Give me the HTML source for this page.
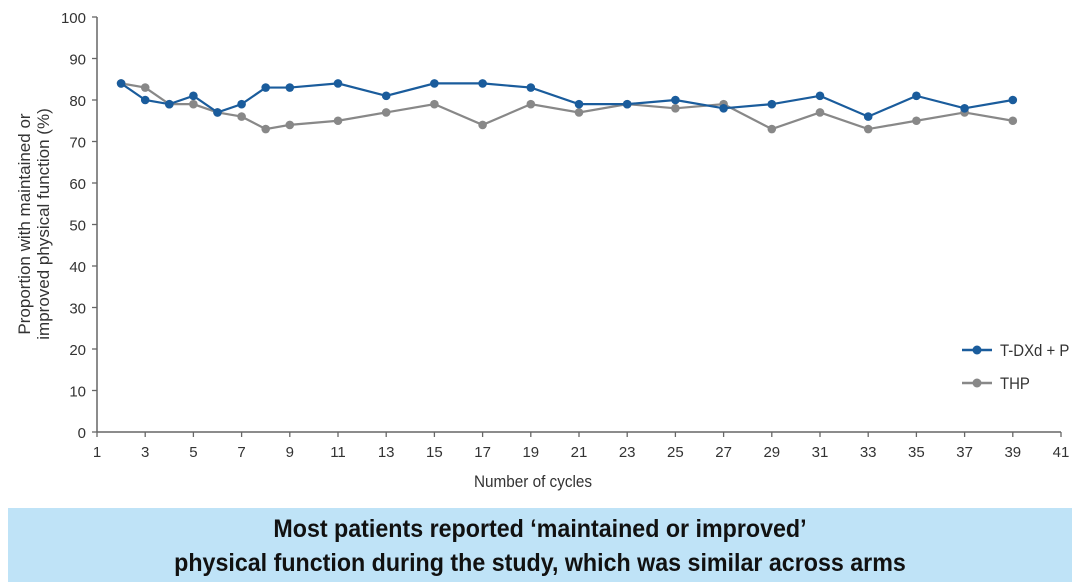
<!DOCTYPE html>
<html><head><meta charset="utf-8"><style>
html,body{margin:0;padding:0;background:#fff;width:1080px;height:586px;overflow:hidden}
svg{display:block}
text{font-family:"Liberation Sans",sans-serif}
</style></head><body>
<svg id="s" width="1080" height="586" viewBox="0 0 1080 586" xmlns="http://www.w3.org/2000/svg">
<rect x="8" y="508" width="1064" height="74" fill="#bfe3f7"/>
<text x="540" y="537" text-anchor="middle" font-size="25" font-weight="bold" fill="#111" transform="translate(540 0) scale(0.93 1) translate(-540 0)">Most patients reported ‘maintained or improved’</text>
<text x="540" y="571" text-anchor="middle" font-size="25" font-weight="bold" fill="#111" transform="translate(540 0) scale(0.93 1) translate(-540 0)">physical function during the study, which was similar across arms</text>
<text x="533" y="487" text-anchor="middle" font-size="17" fill="#333" transform="translate(533 0) scale(0.9 1) translate(-533 0)">Number of cycles</text>
<text transform="translate(30 224) rotate(-90)" text-anchor="middle" font-size="17" fill="#333">Proportion with maintained or</text>
<text transform="translate(49 224) rotate(-90)" text-anchor="middle" font-size="17" fill="#333">improved physical function (%)</text>
<g id="ax"></g>
<line x1="962" y1="350" x2="992" y2="350" stroke="#1a5c9c" stroke-width="2.5"/><circle cx="977" cy="350" r="4.5" fill="#1a5c9c"/>
<text x="1000" y="356" font-size="17" fill="#333" transform="translate(1000 0) scale(0.88 1) translate(-1000 0)">T-DXd + P</text>
<line x1="962" y1="383" x2="992" y2="383" stroke="#888" stroke-width="2.5"/><circle cx="977" cy="383" r="4.5" fill="#888"/>
<text x="1000" y="389" font-size="17" fill="#333" transform="translate(1000 0) scale(0.88 1) translate(-1000 0)">THP</text>
</svg>
<script>
var ns="http://www.w3.org/2000/svg",g=document.getElementById("ax");
function X(c){return 97+(c-1)*24.1}function Y(v){return 432-v*4.15}
function el(t,a,txt){var e=document.createElementNS(ns,t);for(var k in a)e.setAttribute(k,a[k]);if(txt!=null)e.textContent=txt;g.appendChild(e);return e}
el("line",{x1:97,y1:17,x2:97,y2:432,stroke:"#666","stroke-width":1.5});
el("line",{x1:97,y1:432,x2:1061,y2:432,stroke:"#666","stroke-width":1.5});
for(var v=0;v<=100;v+=10){el("line",{x1:92,y1:Y(v),x2:97,y2:Y(v),stroke:"#666","stroke-width":1.3});
el("text",{x:86,y:Y(v)+6,"text-anchor":"end","font-size":15,fill:"#333"},v);}
for(var c=1;c<=41;c+=2){el("line",{x1:X(c),y1:432,x2:X(c),y2:437,stroke:"#666","stroke-width":1.3});
el("text",{x:X(c),y:457,"text-anchor":"middle","font-size":15,fill:"#333"},c);}
var cs=[2,3,4,5,6,7,8,9,11,13,15,17,19,21,23,25,27,29,31,33,35,37,39];
var gray=[84,83,79,79,77,76,73,74,75,77,79,74,79,77,79,78,79,73,77,73,75,77,75];
var blue=[84,80,79,81,77,79,83,83,84,81,84,84,83,79,79,80,78,79,81,76,81,78,80];
function series(d,col){var p=cs.map(function(c,i){return X(c)+","+Y(d[i])}).join(" ");
el("polyline",{points:p,fill:"none",stroke:col,"stroke-width":2.2});
cs.forEach(function(c,i){el("circle",{cx:X(c),cy:Y(d[i]),r:4.3,fill:col})});}
series(gray,"#888");series(blue,"#1a5c9c");
</script>
</body></html>
